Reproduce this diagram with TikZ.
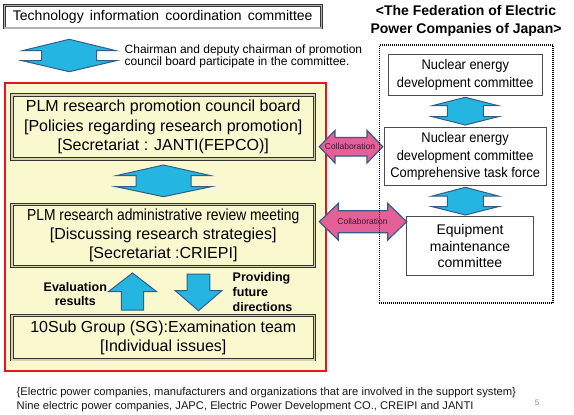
\documentclass[tikz,border=0pt]{standalone}
\usepackage{fontspec}
\setmainfont{Liberation Sans}
\newfontfamily\condfont[FakeStretch=0.865]{Liberation Sans}
\newfontfamily\narrowfont[FakeStretch=0.92]{Liberation Sans}
\definecolor{cream}{RGB}{250,248,206}
\definecolor{arrblue}{RGB}{36,181,224}
\definecolor{arredge}{RGB}{52,92,140}
\definecolor{pinkarr}{RGB}{230,96,152}
\definecolor{redline}{RGB}{228,22,26}
\definecolor{lbldark}{RGB}{60,20,50}
\tikzset{
  topbox/.style={draw=black!80, line width=0.8pt, double=black!30, double distance=1.2pt, fill=white, inner sep=0pt},
  plmbox/.style={draw=black!80, line width=0.9pt, double=cream!85!black, double distance=1.4pt, fill=cream, inner sep=0pt},
  redbox/.style={draw=redline, line width=1.6pt, fill=cream, inner sep=0pt},
  rbox/.style={draw=black!70, line width=0.8pt, fill=white, inner sep=0pt},
  dotbox/.style={draw=black, line width=1.2pt, dash pattern=on 1pt off 1pt, inner sep=0pt},
  bluearr/.style={fill=arrblue, draw=arredge, line width=1pt, line join=miter},
  pinkarrow/.style={fill=pinkarr, draw=arredge, line width=1.2pt, line join=miter},
  collablbl/.style={font=\fontsize{8.5}{9}\selectfont, text=lbldark, inner sep=0pt},
  boldlbl/.style={font=\bfseries\fontsize{12.5}{14.8}\selectfont, inner sep=0pt},
}
% vertical up-down arrow: cx, top, bottom, half width, shaft half width, tip y1, tip y2
\newcommand\udarrow[7]{%
  \draw[bluearr] (#1,#2) -- (#1+#4,#6) -- (#1+#5,#6) -- (#1+#5,#7) -- (#1+#4,#7) -- (#1,#3)
    -- (#1-#4,#7) -- (#1-#5,#7) -- (#1-#5,#6) -- (#1-#4,#6) -- cycle;}
% horizontal left-right arrow: x1, x2, yc, head length, shaft half, head half
\newcommand\lrarrow[6]{%
  \draw[pinkarrow] (#1,#3) -- (#1+#4,#3-#6) -- (#1+#4,#3-#5) -- (#2-#4,#3-#5) -- (#2-#4,#3-#6)
    -- (#2,#3) -- (#2-#4,#3+#6) -- (#2-#4,#3+#5) -- (#1+#4,#3+#5) -- (#1+#4,#3+#6) -- cycle;}
\begin{document}
\begin{tikzpicture}[x=1pt,y=-1pt]
\useasboundingbox (0,0) rectangle (574,415);
\fill[white] (0,0) rectangle (574,415);

% top committee
\node[topbox, minimum width=316.7pt, minimum height=22.5pt, font=\fontsize{14}{16}\selectfont] (tic) at (162.75,16.65) {Technology\, information\, coordination\, committee};

% header
\node[font=\bfseries\fontsize{14}{18}\selectfont, align=center, inner sep=0pt] (fepc) at (466,21.2) {<The Federation of Electric\\Power Companies of Japan>};

% top blue arrow and its text
\udarrow{69.2}{39.3}{71.7}{47}{27.5}{50.7}{60.7}
\node[anchor=west, align=left, font=\fontsize{12}{12}\selectfont, inner sep=0pt] (chair) at (124.5,56.2) {Chairman and deputy chairman of promotion\\council board participate in the committee.};

% red area
\node[redbox, minimum width=321pt, minimum height=288.3pt] (area) at (165.5,226.85) {};

% PLM boxes
\node[plmbox, minimum width=302.5pt, minimum height=64pt, align=center, font=\fontsize{16}{19.3}\selectfont] (plm1) at (163.25,127) {PLM research promotion council board\\{}[Policies regarding research promotion]\\{}[Secretariat : JANTI(FEPCO)]};
\node[plmbox, minimum width=302.5pt, minimum height=62.2pt, align=center, font=\fontsize{16}{18.7}\selectfont] (plm2) at (163.25,235.5) {{\condfont PLM research administrative review meeting}\\{}[Discussing research strategies]\\{}[Secretariat :CRIEPI]};
\node[plmbox, minimum width=302.5pt, minimum height=44.1pt, align=center, font=\fontsize{16}{19}\selectfont] (sg) at (163.25,337.75) {10Sub Group (SG):Examination team\\{}[Individual issues]};

% arrows in red area
\udarrow{163.5}{165}{196.7}{47.5}{27.5}{175.7}{186.7}
\draw[bluearr] (132.5,273) -- (156.7,291.7) -- (143.7,291.7) -- (143.7,310.2) -- (121.3,310.2) -- (121.3,291.7) -- (108.3,291.7) -- cycle;
\draw[bluearr] (187.2,274) -- (209.8,274) -- (209.8,290.5) -- (222,290.5) -- (198.5,310.7) -- (175,290.5) -- (187.2,290.5) -- cycle;
\node[boldlbl, align=center] (evalres) at (75.3,294) {Evaluation\\results};
\node[boldlbl, align=left, anchor=west] (provfut) at (232.5,292) {Providing\\future\\directions};

% right boxes
\node[rbox, minimum width=154pt, minimum height=40.7pt, align=center, font=\narrowfont\fontsize{14}{17.6}\selectfont] (ned) at (465.3,74.65) {Nuclear energy\\development committee};
\node[rbox, minimum width=161.7pt, minimum height=58.4pt, align=center, font=\narrowfont\fontsize{14}{17.3}\selectfont] (nedtf) at (465.15,156.5) {Nuclear energy\\development committee\\Comprehensive task force};
\node[rbox, minimum width=126.6pt, minimum height=59pt, align=center, font=\fontsize{14}{16.7}\selectfont] (emc) at (470,246.2) {Equipment\\maintenance\\committee};
\udarrow{465.3}{97.3}{125}{33}{18}{105.7}{116.7}
\udarrow{465.3}{187.3}{215}{33}{18}{196}{206.7}

% collaboration arrows
\lrarrow{319.3}{382.7}{146.7}{15.7}{9.3}{16.3}
\lrarrow{319.3}{406.7}{221.7}{19}{11}{18.3}

% dotted group
\node[dotbox, minimum width=173.7pt, minimum height=258pt] (fepcgroup) at (466.15,174) {};

\node[collablbl] (collab1) at (350,146.7) {Collaboration};
\node[collablbl] (collab2) at (362.5,221.7) {Collaboration};

% footer
\node[anchor=west, align=left, font=\fontsize{11.2}{14.4}\selectfont, inner sep=0pt, text=black!90] (footer) at (16.5,399.8) {\{Electric power companies, manufacturers and organizations that are involved in the support system\}\\Nine electric power companies, JAPC, Electric Power Development CO., CREIPI and JANTI};
\node[font=\fontsize{8}{8}\selectfont, text=black!45, inner sep=0pt] (pgnum) at (537,403) {5};
\end{tikzpicture}
\end{document}
